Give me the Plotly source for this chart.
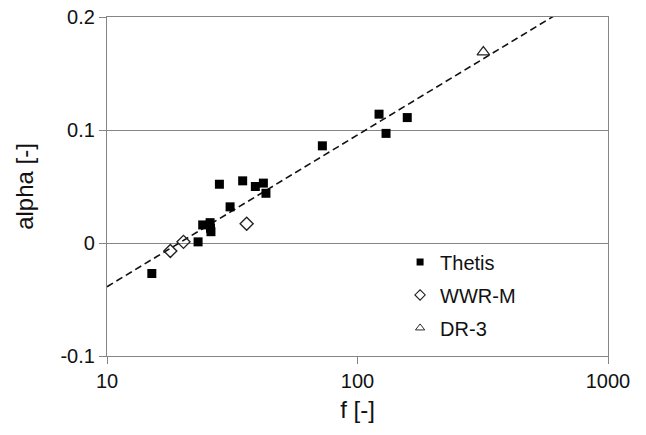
import numpy as np
import plotly.graph_objects as go

# Measured data: friction parameter f versus alpha
thetis_f = [15.1, 23.1, 24.1, 25.8, 25.9, 26.0, 28.1, 31.0, 34.8, 39.1, 42.1, 43.1, 72.4, 121.9, 130.0, 158.0]
thetis_alpha = [-0.027, 0.001, 0.016, 0.018, 0.013, 0.010, 0.052, 0.032, 0.055, 0.050, 0.053, 0.044, 0.086, 0.114, 0.097, 0.111]

wwrm_f = [17.9, 20.2, 36.1]
wwrm_alpha = [-0.007, 0.001, 0.017]

dr3_f = [318.0]
dr3_alpha = [0.169]

# Logarithmic fit: alpha = slope * log10(f) + intercept
fit_slope = 0.1343
fit_intercept = -0.173
fit_f = [10.0, 1000.0]

x_ticks = [10, 100, 1000]
x_tick_text = ["10", "100", "1000"]
y_ticks = [-0.1, 0.0, 0.1, 0.2]
y_tick_text = ["-0.1", "0", "0.1", "0.2"]

fit_alpha = [fit_slope * np.log10(v) + fit_intercept for v in fit_f]

GREY = "#858585"
FONT = "Liberation Sans, Arial, sans-serif"

series = [
    ("Thetis", thetis_f, thetis_alpha, "square", 9, 7, 0),
    ("WWR-M", wwrm_f, wwrm_alpha, "diamond-open", 10, 8, 1.4),
    ("DR-3", dr3_f, dr3_alpha, "triangle-up-open", 11, 8, 1.2),
]

fig = go.Figure()

fig.add_trace(go.Scatter(
    x=fit_f, y=fit_alpha, mode="lines",
    line=dict(color="#111111", width=1.6, dash="7px,4px"),
    showlegend=False, hoverinfo="skip",
))

for i, (name, fx, fy, sym, size, legend_size, lw) in enumerate(series):
    color = "#000000" if lw == 0 else "#222222"
    # plotted points
    fig.add_trace(go.Scatter(
        x=fx, y=fy, mode="markers", name=name, showlegend=False,
        marker=dict(symbol=sym, size=size, color=color, line=dict(width=lw)),
    ))
    # smaller legend key
    fig.add_trace(go.Scatter(
        x=[None], y=[None], mode="markers", name=name, legendgroup=str(i),
        marker=dict(symbol=sym, size=legend_size, color=color, line=dict(width=max(lw * 0.8, 0))),
    ))

fig.update_layout(
    width=646, height=435,
    margin=dict(l=107, r=38, t=17, b=79, autoexpand=False),
    paper_bgcolor="white", plot_bgcolor="white",
    font=dict(family=FONT, size=20, color="#111111"),
    showlegend=True,
    legend=dict(
        x=0.585, y=0.335, xanchor="left", yanchor="top",
        bgcolor="rgba(255,255,255,0)", borderwidth=0,
        font=dict(size=20), tracegroupgap=4,
        itemwidth=30,
    ),
    xaxis=dict(
        type="log", range=[1, 3], automargin=False,
        tickvals=x_ticks, ticktext=x_tick_text,
        ticks="outside", ticklen=7, tickcolor=GREY, tickwidth=1,
        showline=True, linecolor=GREY, linewidth=1.3, mirror=True,
        showgrid=False, zeroline=False,
        title=dict(text="f [-]", standoff=10),
        tickfont=dict(size=20),
    ),
    yaxis=dict(
        range=[-0.1, 0.2], automargin=False,
        tickvals=y_ticks, ticktext=y_tick_text,
        ticks="outside", ticklen=7, tickcolor=GREY, tickwidth=1,
        showline=True, linecolor=GREY, linewidth=1.3, mirror=True,
        showgrid=True, gridcolor=GREY, gridwidth=1.2,
        zeroline=False,
        title=dict(text="alpha [-]", standoff=19),
        tickfont=dict(size=20),
    ),
)

fig.write_html("out.html")
